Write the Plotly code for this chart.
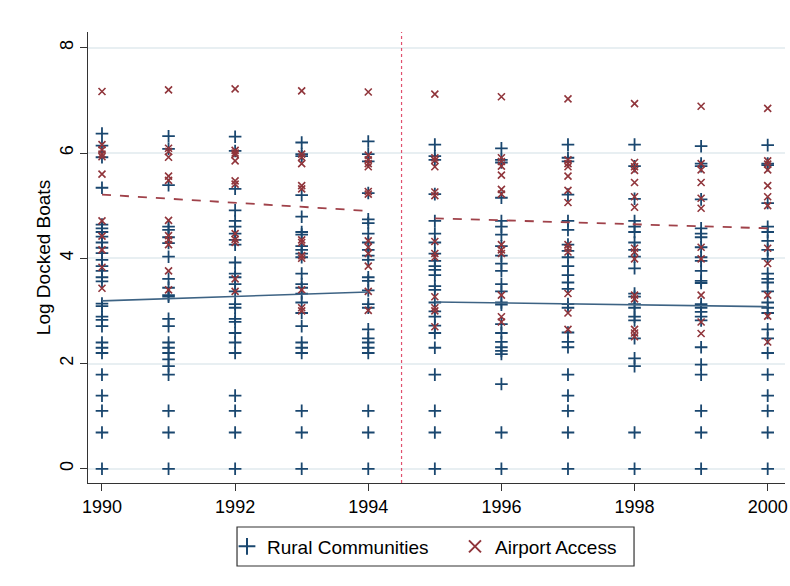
import plotly.graph_objects as go

years = [1990, 1991, 1992, 1993, 1994, 1995, 1996, 1997, 1998, 1999, 2000]

# Rural Communities (log docked boats) per year
rural_1990 = [6.37, 6.14, 5.92, 5.34, 4.64, 4.57, 4.50, 4.41, 4.30, 4.20, 4.10, 3.97, 3.85, 3.76, 3.64, 3.56,
              3.14, 3.09, 2.89, 2.83, 2.71, 2.40, 2.30, 2.20, 1.79, 1.39, 1.10, 0.69, 0.0]
rural_1991 = [6.32, 6.08, 5.39, 4.60, 4.54, 4.40, 4.29, 4.03, 3.61, 3.44, 3.27, 3.30, 2.85, 2.71, 2.40, 2.30,
              2.20, 2.08, 1.95, 1.79, 1.10, 0.69, 0.0]
rural_1992 = [6.31, 6.04, 5.32, 4.91, 4.71, 4.60, 4.47, 4.35, 4.26, 3.92, 3.71, 3.64, 3.51, 3.37, 3.13, 3.06,
              2.85, 2.79, 2.58, 2.40, 2.20, 1.39, 1.10, 0.69, 0.0]
rural_1993 = [6.20, 5.98, 5.94, 5.20, 4.79, 4.50, 4.45, 4.23, 4.16, 4.09, 4.02, 3.71, 3.51, 3.44, 3.33, 3.16,
              2.96, 2.71, 2.40, 2.30, 2.20, 1.10, 0.69, 0.0]
rural_1994 = [6.22, 5.98, 5.84, 5.24, 4.74, 4.67, 4.47, 4.30, 4.16, 4.05, 3.97, 3.64, 3.57, 3.39, 3.13, 3.06,
              2.65, 2.48, 2.40, 2.30, 2.20, 1.10, 0.69, 0.0]
rural_1995 = [6.16, 5.94, 5.87, 5.22, 4.71, 4.47, 4.30, 4.09, 3.95, 3.85, 3.78, 3.68, 3.47, 3.40, 3.16, 2.99,
              2.89, 2.72, 2.58, 2.30, 1.79, 1.10, 0.69, 0.0]
rural_1996 = [6.09, 5.87, 5.82, 5.15, 4.71, 4.60, 4.45, 4.23, 4.05, 3.90, 3.76, 3.51, 3.37, 3.16, 3.12, 2.75,
              2.58, 2.41, 2.31, 2.24, 2.18, 1.61, 0.69, 0.0]
rural_1997 = [6.16, 5.91, 5.84, 5.21, 4.71, 4.54, 4.26, 4.14, 4.02, 3.85, 3.68, 3.54, 3.42, 3.13, 3.06, 2.59,
              2.41, 2.31, 1.79, 1.39, 1.10, 0.69, 0.0]
rural_1998 = [6.16, 5.75, 5.13, 4.71, 4.60, 4.50, 4.30, 4.16, 4.03, 3.81, 3.33, 3.27, 3.13, 3.06, 2.89, 2.82,
              2.48, 2.10, 1.95, 0.69, 0.0]
rural_1999 = [6.13, 5.80, 5.75, 5.12, 4.57, 4.47, 4.40, 4.21, 4.02, 3.95, 3.76, 3.57, 3.53, 3.13, 3.06, 2.98,
              2.89, 2.82, 2.31, 1.98, 1.79, 1.10, 0.69, 0.0]
rural_2000 = [6.15, 5.80, 5.77, 5.05, 4.60, 4.50, 4.33, 4.16, 3.99, 3.71, 3.61, 3.54, 3.37, 3.16, 3.06, 2.96,
              2.65, 2.48, 2.20, 1.79, 1.39, 1.10, 0.69, 0.0]

# Airport Access (log docked boats) per year
airport_1990 = [7.17, 6.16, 6.06, 5.98, 5.93, 5.60, 4.71, 4.42, 4.16, 3.83, 3.43]
airport_1991 = [7.20, 6.09, 6.03, 5.92, 5.56, 5.48, 4.72, 4.43, 4.35, 4.26, 3.76, 3.40]
airport_1992 = [7.22, 6.05, 6.00, 5.97, 5.85, 5.47, 5.41, 4.47, 4.36, 4.30, 3.61, 3.37]
airport_1993 = [7.18, 5.98, 5.92, 5.80, 5.38, 5.32, 4.35, 4.30, 4.05, 4.00, 3.40, 3.06, 3.00]
airport_1994 = [7.16, 5.96, 5.87, 5.80, 5.74, 5.27, 5.22, 4.33, 4.21, 4.09, 3.85, 3.37, 3.01]
airport_1995 = [7.12, 5.91, 5.86, 5.74, 5.26, 5.19, 4.32, 4.09, 4.02, 3.27, 3.06, 3.00, 2.70]
airport_1996 = [7.07, 5.91, 5.84, 5.75, 5.58, 5.31, 5.22, 4.26, 4.16, 4.09, 3.30, 2.89, 2.79]
airport_1997 = [7.03, 5.87, 5.80, 5.74, 5.56, 5.29, 5.06, 4.26, 4.19, 4.12, 3.33, 2.96, 2.65]
airport_1998 = [6.94, 5.82, 5.74, 5.67, 5.44, 5.17, 4.97, 4.19, 4.12, 3.99, 3.30, 3.23, 2.65, 2.58, 2.51]
airport_1999 = [6.89, 5.80, 5.68, 5.44, 5.14, 4.95, 4.21, 3.99, 3.30, 2.79, 2.57]
airport_2000 = [6.85, 5.85, 5.79, 5.68, 5.38, 5.17, 5.00, 4.19, 3.90, 3.30, 2.90, 2.41]

rural_by_year = [rural_1990, rural_1991, rural_1992, rural_1993, rural_1994, rural_1995,
                 rural_1996, rural_1997, rural_1998, rural_1999, rural_2000]
airport_by_year = [airport_1990, airport_1991, airport_1992, airport_1993, airport_1994, airport_1995,
                   airport_1996, airport_1997, airport_1998, airport_1999, airport_2000]

# Fitted trend lines (endpoints), pre and post break
fit_pre_x = [1990, 1994]
fit_post_x = [1995, 2000]
rural_fit_pre = [3.19, 3.36]
rural_fit_post = [3.17, 3.08]
airport_fit_pre = [5.21, 4.90]
airport_fit_post = [4.76, 4.57]
break_year = 1994.5

x_ticks = [1990, 1992, 1994, 1996, 1998, 2000]
y_ticks = [0, 2, 4, 6, 8]

BLUE = "#1a476f"
RED = "#90353b"
FONT = "Liberation Sans, Arial, sans-serif"

rx, ry = [], []
for yr, vals in zip(years, rural_by_year):
    rx += [yr] * len(vals)
    ry += vals
ax_, ay_ = [], []
for yr, vals in zip(years, airport_by_year):
    ax_ += [yr] * len(vals)
    ay_ += vals

fig = go.Figure()

fig.add_trace(go.Scatter(
    x=rx, y=ry, mode="markers", name="Rural Communities",
    marker=dict(symbol="cross-thin", size=9, color=BLUE, line=dict(color=BLUE, width=1.8)),
))
fig.add_trace(go.Scatter(
    x=ax_, y=ay_, mode="markers", name="Airport Access",
    marker=dict(symbol="x-thin", size=7, color=RED, line=dict(color=RED, width=1.6)),
))

for fx, fy in [(fit_pre_x, rural_fit_pre), (fit_post_x, rural_fit_post)]:
    fig.add_trace(go.Scatter(x=fx, y=fy, mode="lines", showlegend=False,
                             line=dict(color="#3d6384", width=1.6), hoverinfo="skip"))
for fx, fy in [(fit_pre_x, airport_fit_pre), (fit_post_x, airport_fit_post)]:
    fig.add_trace(go.Scatter(x=fx, y=fy, mode="lines", showlegend=False,
                             line=dict(color="#a0424a", width=1.8, dash="dash"), hoverinfo="skip"))

fig.add_vline(x=break_year, line=dict(color="#e0506e", width=1.2, dash="dot"))

# legend frame (Stata-style box), in paper coordinates
fig.add_shape(type="rect", xref="paper", yref="paper",
              x0=0.2138, x1=0.7834, y0=-0.184, y1=-0.0976,
              line=dict(color="#333333", width=1.2), fillcolor="rgba(0,0,0,0)")

fig.update_layout(
    width=790, height=586,
    margin=dict(l=88, r=5, t=32, b=103, autoexpand=False),
    paper_bgcolor="white", plot_bgcolor="white",
    font=dict(family=FONT, size=18, color="black"),
    showlegend=True,
    legend=dict(
        orientation="h", x=0.1994, xanchor="left", y=-0.1408, yanchor="middle",
        borderwidth=0, bgcolor="rgba(0,0,0,0)",
        font=dict(family=FONT, size=19, color="black"),
        itemsizing="constant", entrywidth=183,
    ),
    xaxis=dict(
        range=[1989.79, 2000.26], tickvals=x_ticks, ticks="outside", ticklen=7,
        tickcolor="#333333", showline=True, linecolor="#333333", linewidth=1.2,
        showgrid=False, zeroline=False, tickfont=dict(size=18),
    ),
    yaxis=dict(
        range=[-0.27, 8.3], tickvals=y_ticks, ticks="outside", ticklen=7,
        tickcolor="#333333", showline=True, linecolor="#333333", linewidth=1.2,
        showgrid=True, gridcolor="#e8eff2", gridwidth=1.5, zeroline=False,
        tickangle=-90, tickfont=dict(size=18), automargin=False,
        title=dict(text="Log Docked Boats", font=dict(size=19), standoff=1),
    ),
)

fig.write_html("out.html", config={"displayModeBar": False},
               post_script="document.body.style.margin='0';")
